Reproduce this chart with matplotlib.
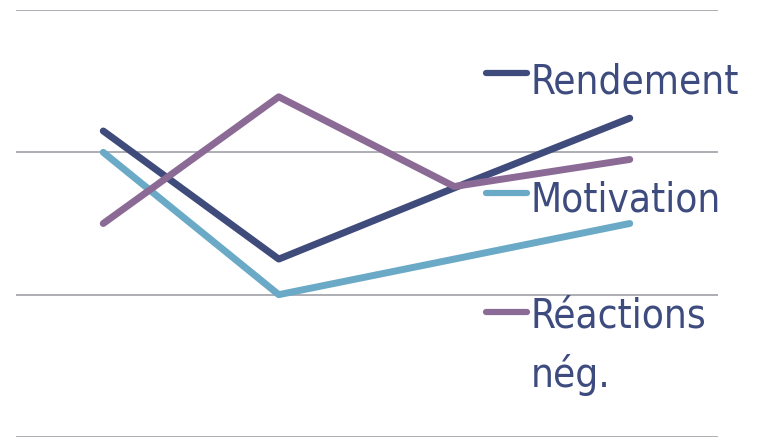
import matplotlib
matplotlib.use("Agg")
import matplotlib.pyplot as plt
from matplotlib.lines import Line2D

categories = ["T1", "T2", "T3", "T4"]
series_names = ["Rendement", "Motivation", "Réactions\nnég."]
rendement = [2.15, 1.25, 1.75, 2.24]
motivation = [2.0, 1.0, 1.25, 1.5]
reactions = [1.5, 2.39, 1.76, 1.95]
y_ticks = [0, 1, 2, 3]

colors = ["#3F4B7B", "#6BAAC6", "#8B6A96"]
text_color = "#3D4B7E"

W, H = 757, 438
fig = plt.figure(figsize=(W / 100, H / 100), dpi=100)
ax = fig.add_axes([15.5 / W, 1 - 437 / H, (717.5 - 15.5) / W, (437 - 10) / H])

x = list(range(len(categories)))
for vals, c in zip([rendement, motivation, reactions], colors):
    ax.plot(x, vals, color=c, lw=5, solid_capstyle="round", solid_joinstyle="round", zorder=3)

ax.set_xlim(-0.5, len(categories) - 0.5)
ax.set_ylim(0, 3)
ax.set_yticks(y_ticks)
ax.set_xticks([])
ax.yaxis.grid(True, color="#A0A0A8", lw=1.2)
ax.tick_params(axis="y", length=0, labelleft=False)
for s in ax.spines.values():
    s.set_visible(False)
ax.set_axisbelow(True)

# manual legend (positions in pixels from top-left)
handle_y = [73, 193, 312]
baseline_y = [93.5, 211, 328]
line_step = 58.7
for name, c, hy, by in zip(series_names, colors, handle_y, baseline_y):
    fig.add_artist(Line2D([486 / W, 527 / W], [1 - hy / H, 1 - hy / H], color=c, lw=4.5,
                          solid_capstyle="round", transform=fig.transFigure))
    for i, part in enumerate(name.split("\n")):
        fig.text(531 / W, 1 - (by + i * line_step) / H, part, color=text_color, fontsize=29,
                 family="DejaVu Sans", fontstretch="condensed", va="baseline", ha="left")

fig.savefig("out.png", dpi=100)
